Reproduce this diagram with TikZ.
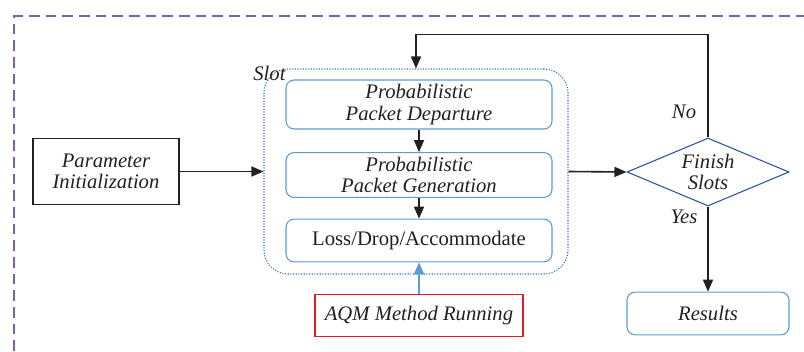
\documentclass[tikz,border=0pt]{standalone}
\usepackage{fontspec}
\setmainfont{Liberation Serif}
\usetikzlibrary{shapes.geometric,arrows.meta,positioning}
\definecolor{framepurple}{RGB}{128,96,172}
\definecolor{procblue}{RGB}{91,155,213}
\definecolor{slotblue}{RGB}{40,110,180}
\definecolor{diablue}{RGB}{47,82,160}
\definecolor{aqmred}{RGB}{220,30,40}
\definecolor{inkgray}{RGB}{35,31,32}
\newcommand{\figfont}{\fontsize{15.5}{16}\selectfont}
\tikzstyle{initbox} = [draw=inkgray, line width=0.8pt, rectangle,
    minimum width=109.5pt, minimum height=50pt, align=center, text=inkgray, font=\figfont\itshape]
\tikzstyle{slotbox} = [draw=slotblue, line width=0.8pt, dash pattern=on 0.8pt off 1.2pt, rectangle, rounded corners=18pt,
    minimum width=228pt, minimum height=153.75pt]
\tikzstyle{procbox} = [draw=procblue, line width=0.8pt, rectangle, rounded corners=6pt,
    minimum width=199.5pt, minimum height=32pt, align=center, text=inkgray, font=\figfont\itshape]
\tikzstyle{aqmbox} = [draw=aqmred, line width=0.8pt, rectangle,
    minimum width=156pt, minimum height=32pt, text=inkgray, font=\figfont\itshape]
\tikzstyle{decision} = [draw=diablue, line width=0.8pt, diamond, shape aspect=2.4, inner sep=0pt,
    minimum width=121.5pt, minimum height=51pt, align=center, text=inkgray, font=\figfont\itshape]
\tikzstyle{flow} = [draw=inkgray, line width=1.2pt, -{Triangle[length=9pt,width=7.5pt]}]
\tikzstyle{tag} = [text=inkgray, font=\figfont\itshape]

\begin{document}
\begin{tikzpicture}[x=0.75pt, y=-0.75pt]
                \useasboundingbox (0,0) rectangle (804,351);
                \draw[framepurple, line width=1.8pt, dash pattern=on 8pt off 4.5pt] (14,351) |- (804,16);

                \node [initbox] (param) at (106,171.5) {Parameter\\Initialization};
                \node [slotbox] (slot) at (416,171.5) {};
                \node [tag, inner sep=1pt] (slotlabel) at ([shift={(6,5)}]slot.north west) {Slot};
                \node [procbox] (depart) at (419,104.5) {Probabilistic\\Packet Departure};
                \node [procbox] (gen) at (419,175) {Probabilistic\\Packet Generation};
                \node [procbox, font=\figfont] (loss) at (419,240.5) {Loss/Drop/Accommodate};
                \node [aqmbox] (aqm) at (419,315.5) {AQM Method Running};
                \node [decision] (finish) at (708,172) {Finish\\Slots};
                \node [procbox, minimum width=121.5pt] (results) at (708,313.5) {Results};

                \draw [flow] (param.east) -- (slot.west);
                \draw [flow] (depart.south) -- (gen.north);
                \draw [flow] (gen.south) -- (loss.north);
                \draw [flow, draw=procblue, -{Triangle[length=9pt,width=7.5pt,fill=procblue]}] (aqm.north) -- (loss.south);
                \draw [flow] (slot.east) -- (finish.west);
                \draw [flow] (finish.north) -- node[tag, left=5pt, pos=0.25] (nolabel) {No} ++(0,-103) -| (slot.north);
                \draw [flow] (finish.south) -- node[tag, left=4pt, pos=0.12] (yeslabel) {Yes} (results.north);
            \end{tikzpicture}
\end{document}
